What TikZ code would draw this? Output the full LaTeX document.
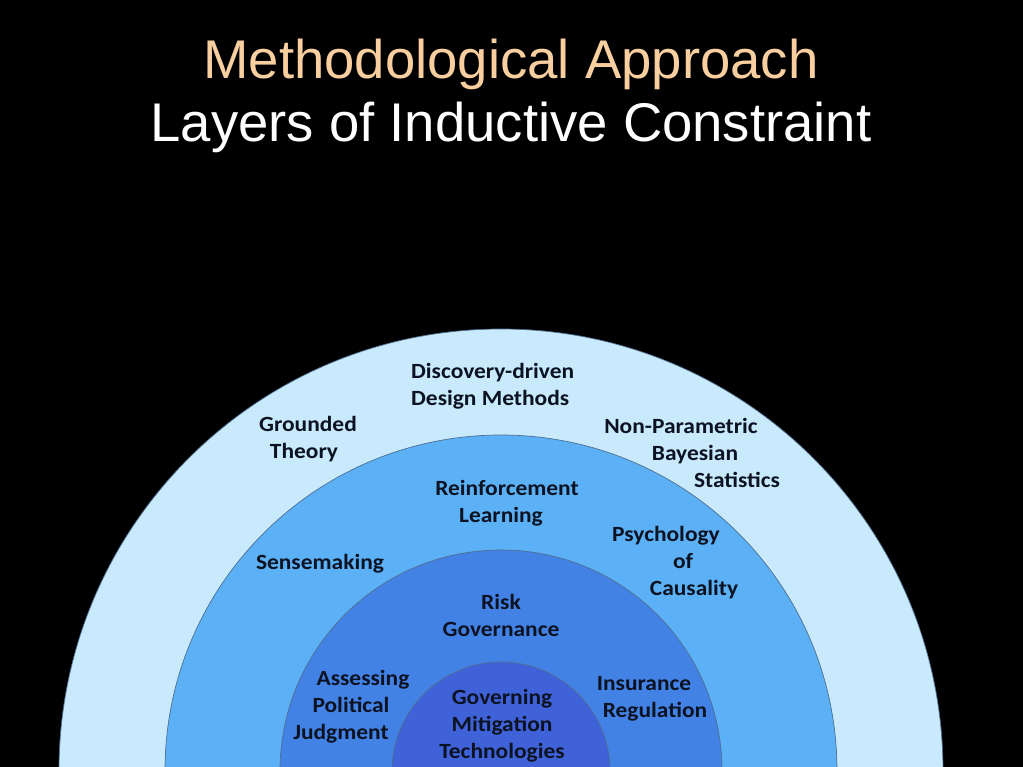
\documentclass[tikz,border=0pt]{standalone}
\usepackage{fontspec}
\setmainfont{Carlito}
\newfontfamily\lblfont{Carlito}[FakeStretch=1.08]
\newfontfamily\titlefont{Liberation Sans}
\definecolor{ringA}{HTML}{C8EAFC}
\definecolor{ringB}{HTML}{5CB1F6}
\definecolor{ringC}{HTML}{4382E5}
\definecolor{ringD}{HTML}{4062D9}
\definecolor{ringline}{HTML}{4F6F90}
\definecolor{peach}{HTML}{F9CFA0}
\definecolor{labelink}{HTML}{0B1222}
\begin{document}
\begin{tikzpicture}[x=1pt,y=-1pt,
  ring/.style={draw=ringline,line width=0.7pt},
  lbl/.style={font=\lblfont\fontsize{21.7}{27}\selectfont\bfseries,text=labelink,inner sep=0pt,anchor=base},
  ttl/.style={font=\titlefont\fontsize{54.5}{60}\selectfont,inner sep=0pt,anchor=base}]
\useasboundingbox (0,0) rectangle (1023,767);
\fill[black] (0,0) rectangle (1023,767);
\begin{scope}
\clip (0,0) rectangle (1023,767);
\fill[ringA,ring] (501,771) circle (442);
\fill[ringB,ring] (501,771) circle (336);
\fill[ringC,ring] (501,771) circle (221);
\fill[ringD,ring] (501,771) circle (109);
\end{scope}
% titles
\node[ttl,text=peach] (t1) at (511,79) {Methodological Approach};
\node[ttl,text=white] (t2) at (511,142) {Layers of Inductive Constraint};
% outer ring
\node[lbl,anchor=base west] (dd1) at (411,378) {Discovery-driven};
\node[lbl,anchor=base west] (dd2) at (411,405) {Design Methods};
\node[lbl] (gt1) at (308,431) {Grounded};
\node[lbl] (gt2) at (304,458) {Theory};
\node[lbl] (np1) at (681,433) {Non-Parametric};
\node[lbl] (np2) at (695,460) {Bayesian};
\node[lbl] (np3) at (737,487) {Statistics};
% second ring
\node[lbl] (rl1) at (507,495) {Reinforcement};
\node[lbl] (rl2) at (501,522) {Learning};
\node[lbl] (pc1) at (666,541) {Psychology};
\node[lbl] (pc2) at (683,568) {of};
\node[lbl] (pc3) at (694,595) {Causality};
\node[lbl] (sm) at (320,569) {Sensemaking};
% third ring
\node[lbl] (rg1) at (501,609) {Risk};
\node[lbl] (rg2) at (501,636) {Governance};
\node[lbl] (ap1) at (363,685) {Assessing};
\node[lbl] (ap2) at (351,712) {Political};
\node[lbl] (ap3) at (341,739) {Judgment};
\node[lbl] (ir1) at (644,690) {Insurance};
\node[lbl] (ir2) at (655,717) {Regulation};
% inner
\node[lbl] (gm1) at (502,704) {Governing};
\node[lbl] (gm2) at (502,731) {Mitigation};
\node[lbl] (gm3) at (502,758) {Technologies};
\end{tikzpicture}
\end{document}
